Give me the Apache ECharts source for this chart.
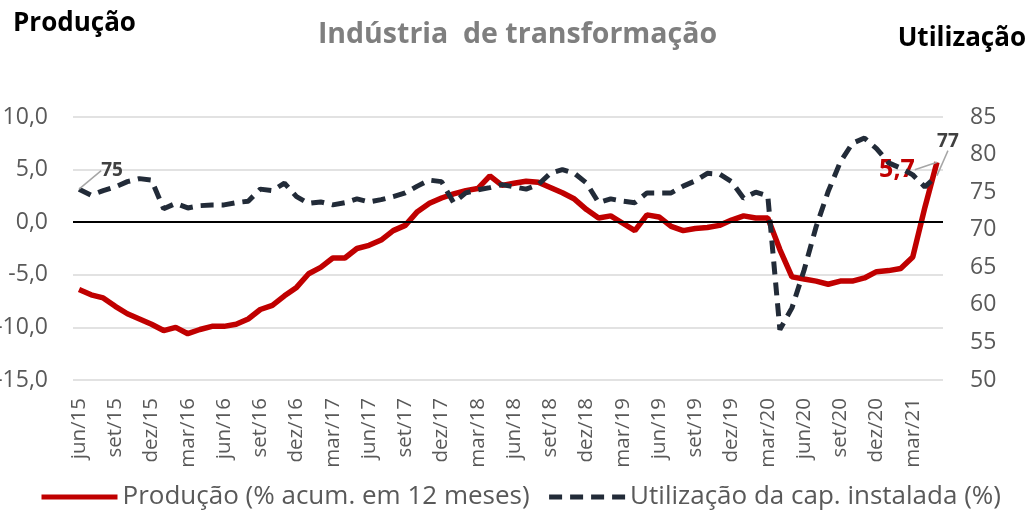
<!DOCTYPE html>
<html>
<head>
<meta charset="utf-8">
<script src="https://cdn.jsdelivr.net/npm/echarts@6/dist/echarts.min.js"></script>
<style>
html,body{margin:0;padding:0;background:#fff;}
#main{width:1035px;height:518px;}
</style>
</head>
<body>
<div id="main"></div>
<script>
var categories = [
 'jun/15','jul/15','ago/15','set/15','out/15','nov/15','dez/15',
 'jan/16','fev/16','mar/16','abr/16','mai/16','jun/16','jul/16','ago/16','set/16','out/16','nov/16','dez/16',
 'jan/17','fev/17','mar/17','abr/17','mai/17','jun/17','jul/17','ago/17','set/17','out/17','nov/17','dez/17',
 'jan/18','fev/18','mar/18','abr/18','mai/18','jun/18','jul/18','ago/18','set/18','out/18','nov/18','dez/18',
 'jan/19','fev/19','mar/19','abr/19','mai/19','jun/19','jul/19','ago/19','set/19','out/19','nov/19','dez/19',
 'jan/20','fev/20','mar/20','abr/20','mai/20','jun/20','jul/20','ago/20','set/20','out/20','nov/20','dez/20',
 'jan/21','fev/21','mar/21','abr/21','mai/21'
];
var producao = [
 -6.4,-6.9,-7.2,-8.0,-8.7,-9.2,-9.7,
 -10.3,-10.0,-10.6,-10.2,-9.9,-9.9,-9.7,-9.2,-8.3,-7.9,-7.0,-6.2,
 -4.9,-4.3,-3.4,-3.4,-2.5,-2.2,-1.7,-0.8,-0.3,1.0,1.8,2.3,
 2.7,3.0,3.2,4.4,3.5,3.7,3.9,3.8,3.3,2.8,2.2,1.2,
 0.4,0.6,-0.1,-0.8,0.7,0.5,-0.4,-0.8,-0.6,-0.5,-0.3,0.2,
 0.6,0.4,0.4,-2.6,-5.2,-5.4,-5.6,-5.9,-5.6,-5.6,-5.3,-4.7,
 -4.6,-4.4,-3.3,1.4,5.7
];
var utilizacao = [
 75.4,74.6,75.2,75.7,76.4,76.8,76.6,
 72.8,73.5,72.9,73.2,73.3,73.3,73.6,73.8,75.4,75.2,76.2,74.4,
 73.5,73.7,73.3,73.6,74.1,73.7,74.0,74.4,74.9,75.8,76.6,76.4,
 73.6,74.9,75.3,75.6,76.0,75.7,75.4,76.0,77.5,78.0,77.5,76.2,
 73.6,74.1,73.8,73.6,74.9,74.9,74.9,75.8,76.5,77.5,77.4,76.4,
 74.2,75.0,74.5,56.7,59.6,64.6,70.4,75.1,79.0,81.5,82.2,80.8,
 78.9,78.2,77.3,75.7,77.2
];
var leftTicks = {min:-15, max:10, interval:5};
var rightTicks = {min:50, max:85, interval:5};

var FONT = '"Open Sans", Lato, sans-serif';
var chart = echarts.init(document.getElementById('main'), null, {renderer:'canvas'});
var last = categories.length - 1;

function mkData(arr, labelIdx, fmt, styles){
  return arr.map(function(v, i){
    if (labelIdx.indexOf(i) >= 0) {
      return {value: v, label: Object.assign({show:true, position:'top', distance:0, formatter: fmt}, styles[i])};
    }
    return v;
  });
}

var option = {
  backgroundColor:'#fff',
  animation:false,
  title:[
    {text:'Indústria  de transformação', left:'center', top:15,
     textStyle:{fontFamily:FONT, fontSize:28.5, fontWeight:'bold', color:'#7f7f7f'}},
    {text:'Produção', left:8, top:6,
     textStyle:{fontFamily:FONT, fontSize:26, fontWeight:'bold', color:'#000'}},
    {text:'Utilização', right:4, top:21,
     textStyle:{fontFamily:FONT, fontSize:26, fontWeight:'bold', color:'#000'}}
  ],
  grid:{left:73, right:92, top:117, bottom:138, outerBoundsMode:'none', containLabel:false},
  legend:{
    bottom:3, left:34, itemGap:17, itemWidth:76, itemHeight:14,
    itemStyle:{opacity:0},
    lineStyle:{width:5},
    textStyle:{fontFamily:FONT, fontSize:26, color:'#595959'},
    data:['Produção (% acum. em 12 meses)','Utilização da cap. instalada (%)']
  },
  xAxis:{
    type:'category', data:categories, boundaryGap:true,
    axisLine:{show:false}, axisTick:{show:false},
    axisLabel:{interval:2, rotate:90, margin:18, fontFamily:FONT, fontSize:20.5, color:'#595959'},
    splitLine:{show:false}
  },
  yAxis:[
    {type:'value', min:leftTicks.min, max:leftTicks.max, interval:leftTicks.interval,
     axisLine:{show:false}, axisTick:{show:false},
     axisLabel:{margin:25, fontFamily:FONT, fontSize:23, color:'#595959',
       formatter:function(v){return v.toFixed(1).replace('.', ',');}},
     splitLine:{lineStyle:{color:'#d9d9d9', width:1.5}}},
    {type:'value', min:rightTicks.min, max:rightTicks.max, interval:rightTicks.interval,
     position:'right',
     axisLine:{show:false}, axisTick:{show:false},
     axisLabel:{margin:27, fontFamily:FONT, fontSize:23, color:'#595959'},
     splitLine:{show:false}}
  ],
  series:[
    {
      name:'Utilização da cap. instalada (%)', type:'line', yAxisIndex:1,
      data: mkData(utilizacao, [0, last], function(p){return Math.round(p.value);}, {
        0:{fontFamily:FONT, fontSize:19, fontWeight:'bold', color:'#404040'},
        71:{fontFamily:FONT, fontSize:19, fontWeight:'bold', color:'#404040'}
      }),
      symbol:'circle', symbolSize:0.01, showAllSymbol:true, z:3,
      lineStyle:{color:'#222b38', width:5, type:[13,8], cap:'butt'},
      itemStyle:{color:'#222b38'},
      labelLine:{show:true, length2:0, lineStyle:{color:'#a6a6a6', width:1.5}},
      labelLayout:function(p){
        if (p.dataIndex === 0) return {dx:33, dy:-9};
        return {dx:11, dy:-25};
      }
    },
    {
      name:'Produção (% acum. em 12 meses)', type:'line', yAxisIndex:0,
      data: mkData(producao, [last], function(p){return p.value.toFixed(1).replace('.', ',');}, {
        71:{fontFamily:FONT, fontSize:25, fontWeight:'bold', color:'#c00000'}
      }),
      symbol:'circle', symbolSize:0.01, showAllSymbol:true, z:2,
      lineStyle:{color:'#c00000', width:5.5},
      itemStyle:{color:'#c00000'},
      labelLine:{show:true, length2:0, lineStyle:{color:'#a6a6a6', width:1.5}},
      labelLayout:function(p){
        return {dx:-40, dy:20};
      },
      markLine:{silent:true, symbol:'none', label:{show:false},
        lineStyle:{color:'#000', width:2, type:'solid'},
        data:[{yAxis:0}]}
    }
  ]
};
chart.setOption(option);
</script>
</body>
</html>
